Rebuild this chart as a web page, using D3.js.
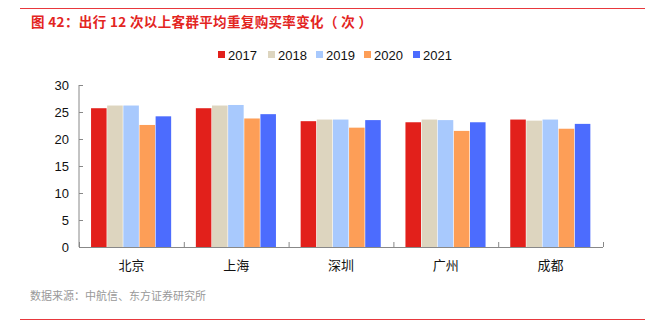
<!DOCTYPE html>
<html><head><meta charset="utf-8">
<script src="https://cdn.jsdelivr.net/npm/d3@7"></script>
<style>body{margin:0;background:#fff}svg{display:block}</style>
</head><body><svg id="c" width="653" height="329"></svg>
<script>
const categories = ["北京","上海","深圳","广州","成都"];
const seriesNames = ["2017","2018","2019","2020","2021"];
const v2017 = [25.7, 25.7, 23.3, 23.1, 23.6];
const v2018 = [26.2, 26.2, 23.6, 23.6, 23.4];
const v2019 = [26.2, 26.3, 23.6, 23.5, 23.6];
const v2020 = [22.6, 23.8, 22.1, 21.5, 21.9];
const v2021 = [24.2, 24.6, 23.5, 23.1, 22.8];
const yTicks = [0,5,10,15,20,25,30];
const colors = ["#e2201b","#ddd5bf","#a8c9fd","#fd9e57","#4c6cfe"];
const seriesValues = [v2017,v2018,v2019,v2020,v2021];

const svg = d3.select("#c");
const font = "'Noto Sans CJK SC', 'Liberation Sans', Arial, sans-serif";
const pL = 79, pR = 603, pT = 85, pB = 247;

// frame lines
svg.append("line").attr("x1",20).attr("x2",645).attr("y1",8.5).attr("y2",8.5).attr("stroke","#e8383d").attr("stroke-width",1.2);
svg.append("line").attr("x1",20).attr("x2",645).attr("y1",319.5).attr("y2",319.5).attr("stroke","#e8383d").attr("stroke-width",1.2);
svg.append("text").attr("x",31).attr("y",26.5).attr("fill","#e3251f").attr("font-size",13.5).attr("font-family",font).attr("font-weight","bold")
  .attr("textLength",341).attr("lengthAdjust","spacing")
  .text("图 42：出行 12 次以上客群平均重复购买率变化（ 次 ）");
svg.append("text").attr("x",30).attr("y",300).attr("fill","#999").attr("font-size",11).attr("font-family",font)
  .text("数据来源：中航信、东方证券研究所");

const x0 = d3.scaleBand().domain(categories).range([pL,pR]).paddingInner(0.23).paddingOuter(0.115);
const x1 = d3.scaleBand().domain(seriesNames).range([0,x0.bandwidth()]);
const y = d3.scaleLinear().domain([0,30]).range([pB,pT]);

const g = svg.append("g");
categories.forEach((c,ci)=>{
  seriesNames.forEach((s,si)=>{
    g.append("rect").attr("x",x0(c)+x1(s)).attr("width",x1.bandwidth()-0.6)
      .attr("y",y(seriesValues[si][ci])).attr("height",pB-y(seriesValues[si][ci]))
      .attr("fill",colors[si]);
  });
});

// y axis
const ya = svg.append("g").attr("transform",`translate(${pL},0)`)
  .call(d3.axisLeft(y).tickValues(yTicks).tickSize(-4).tickPadding(10));
ya.select(".domain").attr("stroke","#888").attr("d",`M0,${pT}V${pB}`);
ya.selectAll(".tick line").attr("stroke","#888");
ya.selectAll("text").attr("font-size",13).attr("font-family","'Liberation Sans', Arial, sans-serif").attr("fill","#111");

// x axis
svg.append("line").attr("x1",pL).attr("x2",pR).attr("y1",pB+0.5).attr("y2",pB+0.5).attr("stroke","#888");
const bnds = d3.range(0,categories.length+1).map(i=>pL+(pR-pL)/categories.length*i);
bnds.forEach(b=>svg.append("line").attr("x1",b+0.5).attr("x2",b+0.5).attr("y1",pB-5).attr("y2",pB).attr("stroke","#888"));
categories.forEach(c=>{
  svg.append("text").attr("x",x0(c)+x0.bandwidth()/2).attr("y",270).attr("text-anchor","middle")
    .attr("font-size",13).attr("font-family",font).attr("fill","#111").text(c);
});

// legend
const legX = [218,268,316,364,413];
seriesNames.forEach((s,i)=>{
  svg.append("rect").attr("x",legX[i]).attr("y",51).attr("width",7).attr("height",7).attr("fill",colors[i]);
  svg.append("text").attr("x",legX[i]+10).attr("y",59.5).attr("font-size",13).attr("font-family","'Liberation Sans', Arial, sans-serif").attr("fill","#111").text(s);
});
</script></body></html>
